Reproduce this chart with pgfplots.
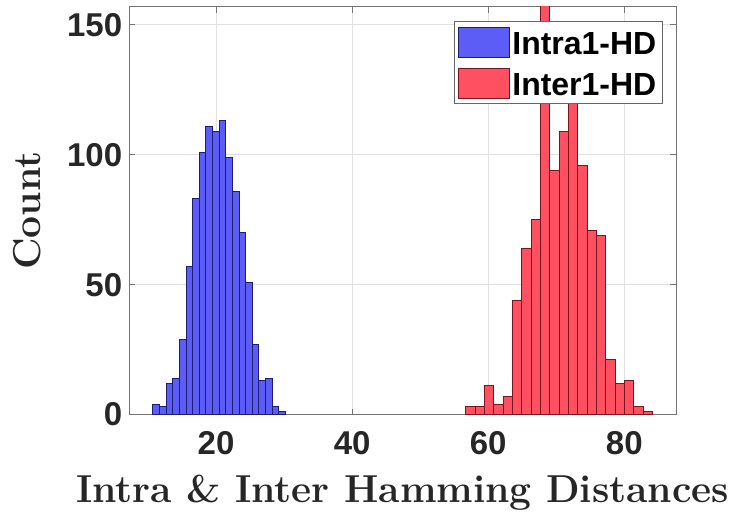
\documentclass[border=0pt]{standalone}
\usepackage{fontspec}
\usepackage{pgfplots}
\pgfplotsset{compat=1.18}
\usetikzlibrary{calc}
\newfontfamily\arial{Liberation Sans}
\definecolor{hblue}{HTML}{5C5CF7}
\definecolor{hred}{HTML}{FF5062}
\definecolor{eblue}{HTML}{1E1E70}
\definecolor{ered}{HTML}{7A1520}
\definecolor{axgray}{HTML}{262626}
\pgfplotsset{hleg/.style={legend image code/.code={\draw[##1] (0pt,-6.2pt) rectangle (25.5pt,8.8pt);}}}

% left bin edges, counts (last row = right edge)
\pgfplotstableread{
x y
10.74 4
11.71 3
12.69 12
13.66 14
14.63 29
15.61 57
16.58 83
17.55 101
18.52 111
19.50 109
20.47 113
21.44 99
22.42 86
23.39 70
24.36 51
25.34 27
26.31 13
27.28 14
28.25 3
29.23 1
30.20 0
}\intra

\pgfplotstableread{
x y
56.73 3
58.10 3
59.47 11
60.84 4
62.21 7
63.58 44
64.95 64
66.32 75
67.69 165
69.06 94
70.43 109
71.80 122
73.17 96
74.54 71
75.91 69
77.28 21
78.65 12
80.02 13
81.39 3
82.76 1
84.13 0
}\inter

\begin{document}
\begin{tikzpicture}
\begin{axis}[
scale only axis,
width=273.5pt,height=204pt,
xmin=7.25,xmax=87.6,ymin=0,ymax=157,
xtick={20,40,60,80},ytick={0,50,100,150},
grid=major,
major grid style={draw=black!12,line width=0.4pt},
axis line style={draw=black!55,line width=0.5pt},
tick style={draw=black!55,line width=0.5pt},
tick align=inside,
major tick length=3pt,
/pgf/number format/assume math mode=true,
tick label style={font=\fontsize{16.5}{18}\selectfont\arial\bfseries,text=axgray},
xticklabel style={yshift=-5pt},
xlabel={Intra \& Inter Hamming Distances},
ylabel={Count},
label style={font=\fontsize{19.5}{22}\selectfont\bfseries,text=axgray},
xlabel style={yshift=-3pt},
ylabel style={yshift=6pt},
legend style={at={(0.9755,0.964)},anchor=north east,
  font=\fontsize{16}{18}\selectfont\arial\bfseries,
  draw=black!60,line width=0.5pt,fill=white,
  inner xsep=1.5pt,inner ysep=2.5pt,row sep=5pt,
  nodes={inner xsep=1.4pt,inner ysep=0pt}},
legend cell align=left,
]
\addplot[ybar interval,fill=hblue,draw=eblue,line width=0.5pt,hleg]
  table[x=x,y=y] {\intra};
\addlegendentry{Intra1-HD}
\addplot[ybar interval,fill=hred,draw=ered,line width=0.5pt,hleg]
  table[x=x,y=y] {\inter};
\addlegendentry{Inter1-HD}
\coordinate (ll) at (rel axis cs:0,0);
\coordinate (ur) at (rel axis cs:1,1);
\end{axis}
\pgfresetboundingbox
\path[use as bounding box] ($(ll)+(-64.65pt,-49.65pt)$) rectangle ($(ur)+(30.5pt,3.35pt)$);
\end{tikzpicture}
\end{document}
